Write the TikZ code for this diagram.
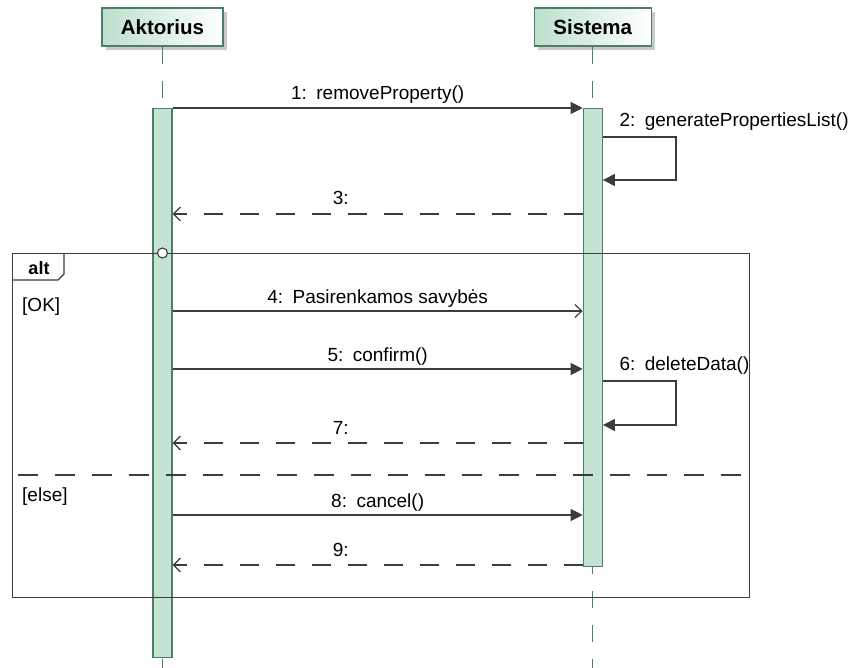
\documentclass[tikz,border=0pt]{standalone}
\usepackage{fontspec}
\setmainfont{Liberation Sans}
\usetikzlibrary{arrows.meta,shadows,positioning}
\definecolor{headgreen}{HTML}{BCE0CD}
\definecolor{barfill}{HTML}{C3E3D3}
\definecolor{barline}{HTML}{4E7E66}
\definecolor{msggray}{HTML}{3C3C3C}
\begin{document}
\begin{tikzpicture}[x=1pt, y=-1pt,
    lbl/.style={font=\fontsize{19}{22}\selectfont, text=black, inner sep=0pt},
    head/.style={draw=barline, line width=1.3pt, left color=headgreen, right color=white,
      minimum height=38pt, font=\bfseries\fontsize{20.5}{24}\selectfont,
      drop shadow={shadow xshift=4pt, shadow yshift=-4pt, fill=black!30, opacity=.7}},
    actbar/.style={draw=barline, fill=barfill, line width=1.2pt, minimum width=19pt, inner sep=0pt},
    lifeline/.style={draw=barline, line width=1.2pt, dash pattern=on 17pt off 17pt},
    call/.style={draw=msggray, line width=1.2pt, -{Triangle[length=12pt, width=12pt]}},
    async/.style={draw=msggray, line width=1.2pt, -{Straight Barb[length=7pt, width=13pt]}},
    reply/.style={draw=msggray, line width=1.2pt, dash pattern=on 19pt off 17pt,
      -{Straight Barb[length=7pt, width=14pt]}},
    frame/.style={draw=msggray, line width=1.2pt}
  ]
  \useasboundingbox (0,0) rectangle (856,668);

  % kopos
  \node[head, minimum width=121pt] (aktor) at (162.5,27) {Aktorius};
  \node[head, minimum width=117pt, right=310pt of aktor] (sistema) {Sistema};

  \coordinate (bottom) at (0,668);
  \draw[lifeline] (aktor.south) -- (aktor.south |- bottom);
  \draw[lifeline] (sistema.south) -- (sistema.south |- bottom);

  % aktyvacijos
  \node[actbar, minimum height=549pt, anchor=north] (aAct) at (aktor.south |- 0,108) {};
  \node[actbar, minimum height=458pt, anchor=north] (sAct) at (sistema.south |- 0,108) {};

  \coordinate (m1) at (0,108);
  \coordinate (m2) at (0,137);
  \coordinate (m2r) at (0,180);
  \coordinate (m3) at (0,214);
  \coordinate (m4) at (0,311);
  \coordinate (m5) at (0,369);
  \coordinate (m6) at (0,381);
  \coordinate (m6r) at (0,425);
  \coordinate (m7) at (0,443);
  \coordinate (m8) at (0,515);
  \coordinate (m9) at (0,565);

  % pranesimai
  \draw[call] (aAct.east |- m1) -- (sAct.west |- m1)
    node[lbl, midway, anchor=base, yshift=8pt] (t1) {1:\enspace removeProperty()};
  \draw[call] (sAct.east |- m2)
    node[lbl, anchor=base west, xshift=16pt, yshift=10pt] (t2) {2:\enspace generatePropertiesList()}
    -- ++(73,0) |- (sAct.east |- m2r);
  \draw[reply] (sAct.west |- m3) -- (aAct.east |- m3)
    node[lbl, pos=0.59, anchor=base, yshift=9pt] (t3) {3:};

  % alt fragmentas
  \node[frame, minimum width=737pt, minimum height=344pt, anchor=north west, inner sep=0pt] (alt) at (12,253) {};
  \draw[frame] (alt.north west) ++(0,27) -- ++(46,0) -- ++(6,-6) -- ++(0,-21);
  \node[font=\bfseries\fontsize{18}{22}\selectfont, inner sep=0pt] (altlbl) at (39,268) {alt};
  \node[circle, draw=msggray, fill=white, line width=1.1pt, minimum size=10pt, inner sep=0pt] (altdot)
    at (aAct.center |- alt.north) {};
  \node[lbl, anchor=west] (okg) at (22,307) {[OK]};
  \node[lbl, anchor=west] (elseg) at (22,497) {[else]};
  \coordinate (sep) at (0,475);
  \draw[frame, dash pattern=on 20pt off 17pt, dash phase=-6pt] (alt.west |- sep) -- (alt.east |- sep);

  \draw[async] (aAct.east |- m4) -- (sAct.west |- m4)
    node[lbl, midway, anchor=base, yshift=8pt] (t4) {4:\enspace Pasirenkamos savybės};
  \draw[call] (aAct.east |- m5) -- (sAct.west |- m5)
    node[lbl, midway, anchor=base, yshift=8pt] (t5) {5:\enspace confirm()};
  \draw[call] (sAct.east |- m6)
    node[lbl, anchor=base west, xshift=16pt, yshift=11pt] (t6) {6:\enspace deleteData()}
    -- ++(73,0) |- (sAct.east |- m6r);
  \draw[reply] (sAct.west |- m7) -- (aAct.east |- m7)
    node[lbl, pos=0.59, anchor=base, yshift=9pt] (t7) {7:};
  \draw[call] (aAct.east |- m8) -- (sAct.west |- m8)
    node[lbl, midway, anchor=base, yshift=8pt] (t8) {8:\enspace cancel()};
  \draw[reply] (sAct.west |- m9) -- (aAct.east |- m9)
    node[lbl, pos=0.59, anchor=base, yshift=9pt] (t9) {9:};
\end{tikzpicture}
\end{document}
